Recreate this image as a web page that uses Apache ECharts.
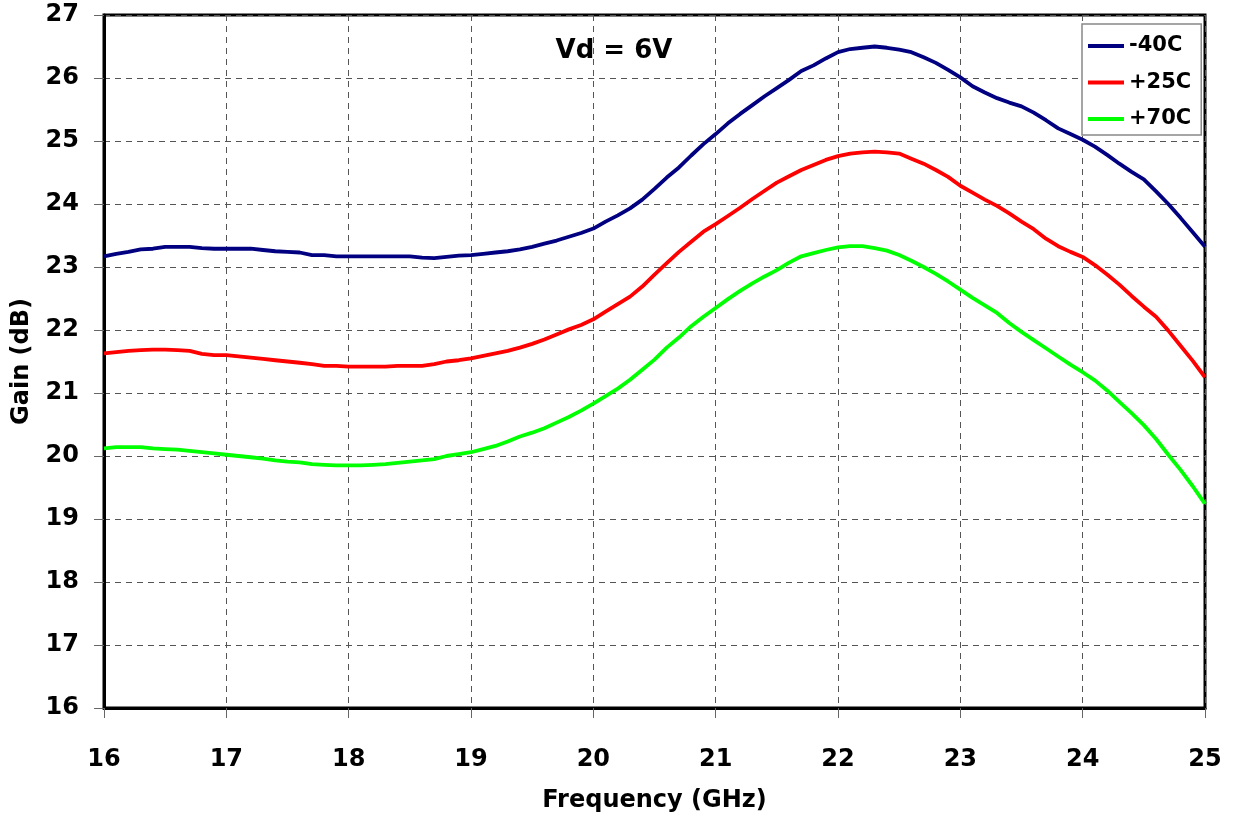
<!DOCTYPE html>
<html>
<head>
<meta charset="utf-8">
<script src="https://cdn.jsdelivr.net/npm/echarts@6/dist/echarts.min.js"></script>
<style>
  html, body { margin: 0; padding: 0; background: #fff; }
  #chart { width: 1233px; height: 818px; }
</style>
</head>
<body>
<div id="chart"></div>
<script>
// Frequency sweep, 16 to 25 GHz in 0.1 GHz steps
const freqGHz = [];
for (let i = 0; i <= 90; i++) freqGHz.push(+(16 + i * 0.1).toFixed(1));

// Gain (dB) per temperature
const gainM40 = [
  23.17, 23.21, 23.24, 23.28, 23.29, 23.32, 23.32, 23.32, 23.30, 23.29,
  23.29, 23.29, 23.29, 23.27, 23.25, 23.24, 23.23, 23.19, 23.19, 23.17,
  23.17, 23.17, 23.17, 23.17, 23.17, 23.17, 23.15, 23.14, 23.16, 23.18,
  23.19, 23.21, 23.23, 23.25, 23.28, 23.32, 23.37, 23.42, 23.48, 23.54,
  23.61, 23.72, 23.82, 23.93, 24.07, 24.24, 24.42, 24.58, 24.77, 24.95,
  25.11, 25.28, 25.43, 25.57, 25.71, 25.84, 25.97, 26.11, 26.20, 26.31,
  26.41, 26.46, 26.48, 26.50, 26.48, 26.45, 26.41, 26.33, 26.24, 26.13,
  26.01, 25.87, 25.77, 25.68, 25.61, 25.55, 25.45, 25.33, 25.20, 25.11,
  25.02, 24.91, 24.78, 24.64, 24.51, 24.39, 24.20, 24.00, 23.78, 23.55,
  23.32
];
const gainP25 = [
  21.63, 21.65, 21.67, 21.68, 21.69, 21.69, 21.68, 21.67, 21.62, 21.60,
  21.60, 21.58, 21.56, 21.54, 21.52, 21.50, 21.48, 21.46, 21.43, 21.43,
  21.42, 21.42, 21.42, 21.42, 21.43, 21.43, 21.43, 21.46, 21.50, 21.52,
  21.55, 21.59, 21.63, 21.67, 21.72, 21.78, 21.85, 21.93, 22.01, 22.08,
  22.17, 22.29, 22.41, 22.53, 22.69, 22.88, 23.06, 23.24, 23.40, 23.56,
  23.68, 23.81, 23.94, 24.08, 24.21, 24.34, 24.44, 24.54, 24.62, 24.70,
  24.76, 24.80, 24.82, 24.83, 24.82, 24.80, 24.72, 24.64, 24.54, 24.43,
  24.29, 24.18, 24.07, 23.97, 23.85, 23.72, 23.60, 23.45, 23.33, 23.24,
  23.16, 23.03, 22.88, 22.72, 22.54, 22.37, 22.21, 21.99, 21.75, 21.51,
  21.25
];
const gainP70 = [
  20.12, 20.14, 20.14, 20.14, 20.12, 20.11, 20.10, 20.08, 20.06, 20.04,
  20.02, 20.00, 19.98, 19.96, 19.93, 19.91, 19.90, 19.87, 19.86, 19.85,
  19.85, 19.85, 19.86, 19.87, 19.89, 19.91, 19.93, 19.95, 20.00, 20.03,
  20.06, 20.11, 20.16, 20.23, 20.31, 20.37, 20.44, 20.53, 20.62, 20.72,
  20.83, 20.95, 21.07, 21.21, 21.37, 21.53, 21.72, 21.88, 22.06, 22.21,
  22.35, 22.49, 22.62, 22.74, 22.85, 22.95, 23.07, 23.17, 23.22, 23.27,
  23.31, 23.33, 23.33, 23.30, 23.26, 23.19, 23.10, 23.00, 22.89, 22.77,
  22.64, 22.51, 22.39, 22.27, 22.11, 21.97, 21.84, 21.71, 21.58, 21.45,
  21.33, 21.20, 21.04, 20.86, 20.68, 20.49, 20.27, 20.02, 19.78, 19.52,
  19.24
];

const seriesNames = ['-40C', '+25C', '+70C'];
const seriesColors = ['#000080', '#ff0000', '#00ff00'];
const seriesData = [gainM40, gainP25, gainP70];

const FONT = '"DejaVu Sans", "Liberation Sans", Arial, sans-serif';

const chart = echarts.init(document.getElementById('chart'), null, { renderer: 'canvas' });

const gridLine = { show: true, lineStyle: { color: '#555', width: 1, type: [6, 5] } };
const tickStyle = { show: true, length: 10, lineStyle: { color: '#666', width: 1 } };

chart.setOption({
  animation: false,
  backgroundColor: '#fff',
  title: {
    text: 'Vd = 6V',
    left: 609, top: 33, textAlign: 'center',
    textStyle: { fontFamily: FONT, fontWeight: 'bold', fontSize: 26, color: '#000' }
  },
  legend: {
    left: 1082, top: 24, orient: 'vertical',
    padding: [10, 10, 4, 6],
    itemGap: 12.5, itemWidth: 36, itemHeight: 4,
    backgroundColor: '#fff', borderColor: '#888', borderWidth: 1.5,
    icon: 'rect',
    textStyle: { fontFamily: FONT, fontWeight: 'bold', fontSize: 21, lineHeight: 24, color: '#000' },
    data: seriesNames
  },
  grid: {
    left: 104, right: 28, top: 15, bottom: 103,
    show: true, borderColor: '#000', borderWidth: 3, backgroundColor: 'transparent'
  },
  xAxis: {
    type: 'value', min: 16, max: 25, interval: 1,
    name: 'Frequency (GHz)', nameLocation: 'middle', nameGap: 81,
    nameTextStyle: { fontFamily: FONT, fontWeight: 'bold', fontSize: 24, color: '#000' },
    axisLine: { show: true, lineStyle: { color: '#000', width: 3 } },
    axisTick: tickStyle,
    axisLabel: { fontFamily: FONT, fontWeight: 'bold', fontSize: 24, color: '#000', margin: 40 },
    splitLine: gridLine
  },
  yAxis: {
    type: 'value', min: 16, max: 27, interval: 1,
    name: 'Gain (dB)', nameLocation: 'middle', nameGap: 70, nameRotate: 90,
    nameTextStyle: { fontFamily: FONT, fontWeight: 'bold', fontSize: 24, color: '#000' },
    axisLine: { show: true, lineStyle: { color: '#000', width: 3 } },
    axisTick: tickStyle,
    axisLabel: { fontFamily: FONT, fontWeight: 'bold', fontSize: 24, color: '#000', margin: 25, padding: [10, 0, 0, 0] },
    splitLine: gridLine
  },
  series: seriesNames.map((name, k) => ({
    name: name,
    type: 'line',
    data: freqGHz.map((f, i) => [f, seriesData[k][i]]),
    showSymbol: false,
    symbol: 'none',
    smooth: false,
    lineStyle: { color: seriesColors[k], width: 3.8 },
    itemStyle: { color: seriesColors[k] },
    z: 3
  }))
});
</script>
</body>
</html>
